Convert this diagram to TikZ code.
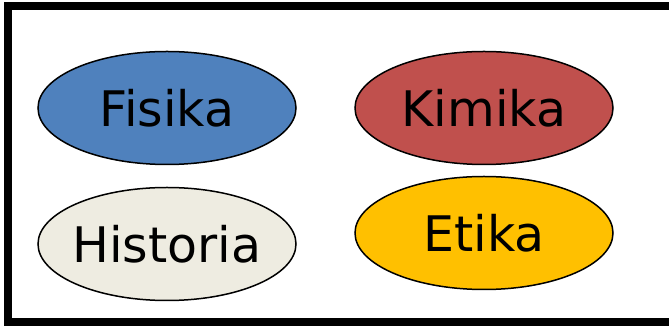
\documentclass[tikz,border=0pt]{standalone}
\usepackage{fontspec}
\setmainfont{DejaVu Sans}
\usetikzlibrary{shapes.geometric,positioning}
\definecolor{fisblue}{HTML}{4F81BD}
\definecolor{kimred}{HTML}{C0504D}
\definecolor{hiscream}{HTML}{EEECE1}
\definecolor{etigold}{HTML}{FFC000}
\begin{document}
\begin{tikzpicture}[x=1pt, y=1pt, subj/.style={draw, ellipse, line width=1.5pt, minimum width=258pt, minimum height=113pt, inner ysep=0pt, inner xsep=-40pt, font=\fontsize{49}{56}\selectfont}]
            \useasboundingbox (0,0) rectangle (669,326);
            \draw[line width=8pt] (690,320) -- (8,320) -- (8,4) -- (690,4);
            \node[subj, fill=fisblue] (fis) at (167,218) {Fisika};
            \node[subj, fill=kimred] (kim) at (484,218) {Kimika};
            \node[subj, fill=hiscream] (his) at (167,82) {Historia};
            \node[subj, fill=etigold] (eti) at (484,93) {Etika};
        \end{tikzpicture}
\end{document}
